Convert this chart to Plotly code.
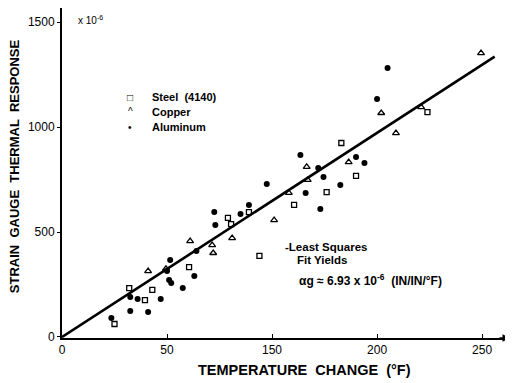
import plotly.graph_objects as go

steel_x = [25, 32, 39.5, 43, 60.5, 79, 80.5, 89, 94, 110.5, 126, 133, 140, 174]
steel_y = [62, 233, 176, 224, 333, 567, 538, 595, 386, 629, 690, 924, 767, 1071]

copper_x = [41, 49.5, 61, 71.5, 72, 81, 101, 108, 116.5, 117, 136.5, 152, 159, 171, 199.5]
copper_y = [314, 325, 457, 438, 400, 471, 557, 686, 810, 748, 833, 1067, 971, 1095, 1352]

alum_x = [23.5, 32.5, 32.5, 36, 41, 47, 51.5, 50, 51, 52, 57.5, 63, 64, 72.5, 73, 85, 89,
          97.5, 113.5, 116, 122, 123, 124.5, 132.5, 140, 144, 150, 155]
alum_y = [90, 190, 124, 181, 119, 181, 367, 314, 271, 257, 233, 290, 410, 595, 533, 586, 629,
          729, 867, 686, 805, 610, 762, 724, 857, 829, 1133, 1281]

fit_x = [0, 206]
fit_y = [0, 1335]

x_tickvals = [0, 50, 100, 150, 200]
x_ticktext = ["0", "50", "150", "200", "250"]
y_tickvals = [0, 500, 1000, 1500]
y_ticktext = ["0", "500", "1000", "1500"]

legend_labels = ["Steel  (4140)", "Copper", "Aluminum"]
legend_symbols = ["□", "^", "•"]

FONT = "Liberation Sans"

fig = go.Figure()
fig.add_trace(go.Scatter(x=fit_x, y=fit_y, mode="lines",
                         line=dict(color="black", width=2.6), showlegend=False))
fig.add_trace(go.Scatter(x=steel_x, y=steel_y, mode="markers", name=legend_labels[0],
                         marker=dict(symbol="square-open", size=5, color="black",
                                     line=dict(width=1.3)), showlegend=False))
fig.add_trace(go.Scatter(x=copper_x, y=copper_y, mode="markers", name=legend_labels[1],
                         marker=dict(symbol="triangle-up-open", size=6, color="black",
                                     line=dict(width=1.3)), showlegend=False))
fig.add_trace(go.Scatter(x=alum_x, y=alum_y, mode="markers", name=legend_labels[2],
                         marker=dict(symbol="circle", size=6, color="black"),
                         showlegend=False))

# page body has an 8px margin: figure is drawn from (8, 8) of the window
fig.update_layout(
    width=505, height=375,
    margin=dict(l=54, r=3, t=0, b=45),
    paper_bgcolor="white", plot_bgcolor="white",
    font=dict(family=FONT, color="black", size=12),
    xaxis=dict(range=[0, 213.3], tickvals=x_tickvals, ticktext=x_ticktext,
               showline=True, linecolor="black", linewidth=2, ticks="inside",
               ticklen=4, tickcolor="black", showgrid=False, zeroline=False,
               tickfont=dict(size=12, family=FONT)),
    yaxis=dict(range=[-4.8, 1567], tickvals=y_tickvals, ticktext=y_ticktext,
               showline=True, linecolor="black", linewidth=2, ticks="outside",
               ticklen=3, tickcolor="black", showgrid=False, zeroline=False,
               tickfont=dict(size=12, family=FONT)),
    showlegend=False,
)

C = dict(xanchor="center", yanchor="middle", showarrow=False)
L = dict(xanchor="left", yanchor="middle", showarrow=False)
anns = [
    dict(text="<b>TEMPERATURE  CHANGE  (°F)</b>", xref="paper", yref="paper",
         x=0.542, y=-0.097, font=dict(size=14.5), **C),
    dict(text="<b>STRAIN  GAUGE  THERMAL  RESPONSE</b>", xref="paper", yref="paper",
         x=-0.107, y=0.521, textangle=-90, font=dict(size=13), **C),
    dict(text="x 10<sup>-6</sup>", xref="x", yref="y", x=6.5, y=1510,
         font=dict(size=10), **L),
    dict(text="<b>-Least Squares</b>", xref="x", yref="y", x=105, y=430,
         font=dict(size=11.5), **L),
    dict(text="<b>Fit Yields</b>", xref="x", yref="y", x=111, y=366,
         font=dict(size=11.5), **L),
    dict(text="<b>αg ≈ 6.93 x 10<sup>-6</sup>  (IN/IN/°F)</b>", xref="x", yref="y",
         x=112, y=271, font=dict(size=12), **L),
    dict(text="", xref="x", yref="y", x=213.3, y=-4.8, ax=-12, ay=0, showarrow=True,
         arrowhead=2, arrowsize=1, arrowwidth=1.5, arrowcolor="black"),
]
leg_y = [0.730, 0.685, 0.639]
for sym, lab, yy in zip(legend_symbols, legend_labels, leg_y):
    anns.append(dict(text=sym, xref="paper", yref="paper", x=0.152, y=yy,
                     font=dict(size=10), **C))
    anns.append(dict(text="<b>" + lab + "</b>", xref="paper", yref="paper", x=0.196, y=yy,
                     font=dict(size=11), **L))
fig.update_layout(annotations=anns)

fig.write_html("out.html")
